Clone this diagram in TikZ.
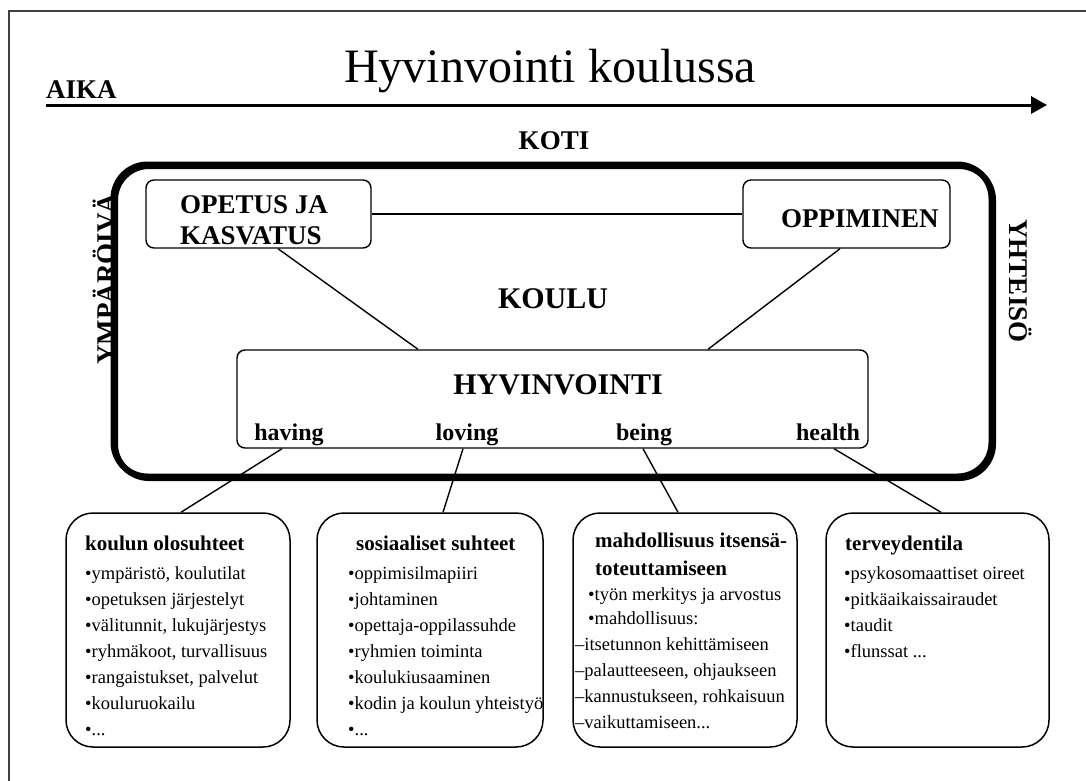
\documentclass[tikz,border=0pt]{standalone}
\usepackage{fontspec}
\setmainfont{Liberation Serif}
\usetikzlibrary{arrows.meta,calc}
\newcommand\fsz[1]{\fontsize{#1}{#1}\selectfont}
\newcommand\ddd{.{}.{}.}
\tikzset{
  ibox/.style={draw, line width=1.4pt, rounded corners=8pt, inner sep=0pt},
  sbox/.style={draw, line width=1.5pt, rounded corners=27pt, inner sep=0pt, minimum height=234pt},
  conn/.style={line width=1.4pt},
  big/.style={font=\fsz{27}\bfseries, inner sep=0pt},
  lab/.style={font=\fsz{24}\bfseries, inner sep=0pt, anchor=base},
  ttl/.style={font=\fsz{21}\bfseries, inner sep=0pt, anchor=base west},
  itm/.style={font=\fsz{18.5}, inner sep=0pt, anchor=base west},
  frame/.style={draw, line width=6pt, rounded corners=34pt, minimum width=878pt, minimum height=312pt, inner sep=0pt},
}
\begin{document}
\begin{tikzpicture}[x=1pt,y=-1pt]
\useasboundingbox (0,0) rectangle (1086,780);
% outer frame
\draw[line width=1.5pt, black!75] (9,785) -- (9,11) -- (1090,11);
% title and time arrow
\node[font=\fsz{48}, inner sep=0pt, anchor=base] (title) at (550,82) {Hyvinvointi koulussa};
\node[big, anchor=base west] (aika) at (46,98) {AIKA};
\coordinate (t0) at (46,105);
\coordinate (t1) at (1047,105);
\draw[line width=3pt, -{Triangle[length=16pt,width=17pt]}] (t0) -- (t1);
\node[big, anchor=base] (koti) at (554,149) {KOTI};
% school frame
\node[big, rotate=90] (ymp) at (104,279) {YMPÄRÖIVÄ};
\node[frame] (koulushadow) at (554,322) {};
\node[frame] (koulubox) at (552.5,320.5) {};
\node[big, rotate=-90] (yht) at (1021,281) {YHTEISÖ};
\node[font=\fsz{30}\bfseries, inner sep=0pt, anchor=base] (koulu) at (553,308) {KOULU};
% upper boxes
\node[ibox, minimum width=225pt, minimum height=68pt] (opetus) at (258.5,214) {};
\node[big, anchor=base west] (opt1) at (180,213) {OPETUS JA};
\node[big, anchor=base west] (opt2) at (180,244) {KASVATUS};
\node[ibox, minimum width=207pt, minimum height=68pt] (oppi) at (846.5,214) {};
\node[big, anchor=base west] (oppit) at (781,227) {OPPIMINEN};
% hyvinvointi
\node[ibox, minimum width=631pt, minimum height=98pt] (hyv) at (552.5,399) {};
\node[font=\fsz{30}\bfseries, inner sep=0pt, anchor=base] (hyvt) at (558,394) {HYVINVOINTI};
\node[lab] (having) at (289,440) {having};
\node[lab] (loving) at (467,440) {loving};
\node[lab] (being) at (644,440) {being};
\node[lab] (health) at (828,440) {health};
\draw[conn] (opetus.east) -- (oppi.west);
\draw[conn] ([xshift=19.5pt]opetus.south) -- ([xshift=-134.5pt]hyv.north);
\draw[conn] ([xshift=-6.5pt]oppi.south) -- ([xshift=155.5pt]hyv.north);
% lower boxes
\node[sbox, minimum width=224pt] (b1) at (178,630) {};
\node[sbox, minimum width=226pt] (b2) at (430,630) {};
\node[sbox, minimum width=224pt] (b3) at (685,630) {};
\node[sbox, minimum width=223pt] (b4) at (937.5,630) {};
\draw[conn] ([xshift=-270.5pt]hyv.south) -- ([xshift=3pt]b1.north);
\draw[conn] ([xshift=-89.5pt]hyv.south) -- ([xshift=13pt]b2.north);
\draw[conn] ([xshift=90.5pt]hyv.south) -- ([xshift=-7pt]b3.north);
\draw[conn] ([xshift=281.5pt]hyv.south) -- ([xshift=3.5pt]b4.north);
% box 1
\node[ttl] (b1t) at (85,550) {koulun olosuhteet};
\node[itm] (b1i1) at (85,579) {•ympäristö, koulutilat};
\node[itm] (b1i2) at (85,605) {•opetuksen järjestelyt};
\node[itm] (b1i3) at (85,631) {•välitunnit, lukujärjestys};
\node[itm] (b1i4) at (85,657) {•ryhmäkoot, turvallisuus};
\node[itm] (b1i5) at (85,683) {•rangaistukset, palvelut};
\node[itm] (b1i6) at (85,709) {•kouluruokailu};
\node[itm] (b1i7) at (85,735) {•\ddd};
% box 2
\node[ttl] (b2t) at (356,550) {sosiaaliset suhteet};
\node[itm] (b2i1) at (348,579) {•oppimisilmapiiri};
\node[itm] (b2i2) at (348,605) {•johtaminen};
\node[itm] (b2i3) at (348,631) {•opettaja-oppilassuhde};
\node[itm] (b2i4) at (348,657) {•ryhmien toiminta};
\node[itm] (b2i5) at (348,683) {•koulukiusaaminen};
\node[itm] (b2i6) at (348,709) {•kodin ja koulun yhteistyö};
\node[itm] (b2i7) at (348,735) {•\ddd};
% box 3
\node[ttl] (b3t1) at (595,547) {mahdollisuus itsensä-};
\node[ttl] (b3t2) at (595,575) {toteuttamiseen};
\node[itm] (b3i1) at (588,600) {•työn merkitys ja arvostus};
\node[itm] (b3i2) at (588,624) {•mahdollisuus:};
\node[itm] (b3i3) at (575,650) {–itsetunnon kehittämiseen};
\node[itm] (b3i4) at (575,676) {–palautteeseen, ohjaukseen};
\node[itm] (b3i5) at (575,702) {–kannustukseen, rohkaisuun};
\node[itm] (b3i6) at (575,728) {–vaikuttamiseen\ddd};
% box 4
\node[ttl] (b4t) at (845,550) {terveydentila};
\node[itm] (b4i1) at (844,579) {•psykosomaattiset oireet};
\node[itm] (b4i2) at (844,605) {•pitkäaikaissairaudet};
\node[itm] (b4i3) at (844,631) {•taudit};
\node[itm] (b4i4) at (844,657) {•flunssat \ddd};
\end{tikzpicture}
\end{document}
